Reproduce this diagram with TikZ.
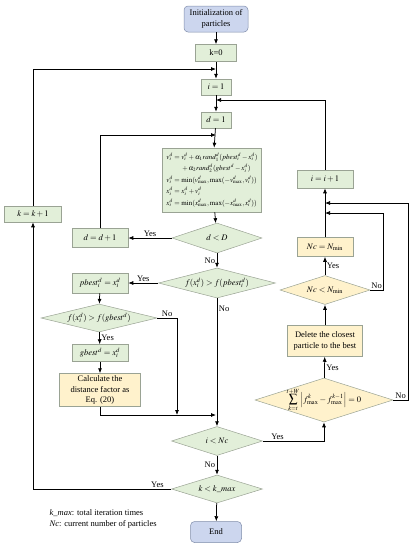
\documentclass[tikz,border=0pt]{standalone}
\usepackage{mathptmx}
\usepackage{fontspec}
\setmainfont{Liberation Serif}
\usetikzlibrary{shapes.geometric,arrows.meta}

\definecolor{fillgreen}{HTML}{E2EFD9}
\definecolor{fillyellow}{HTML}{FFF2CC}
\definecolor{fillblue}{HTML}{CCD6EE}
\definecolor{edgegray}{HTML}{9AA394}
\definecolor{edgeblue}{HTML}{7F8CAA}

\begin{document}
\begin{tikzpicture}[x=1pt, y=-1pt, line width=0.75pt, >={Latex[length=5pt,width=4pt]},
	font=\rmfamily\fontsize{8.5}{10.5}\selectfont,
	greenbox/.style={draw=edgegray, fill=fillgreen, line width=0.5pt, inner sep=1pt},
	yellowbox/.style={greenbox, fill=fillyellow},
	bluebox/.style={draw=edgeblue, fill=fillblue, line width=0.5pt, rounded corners=4pt, inner sep=1pt},
	greendia/.style={greenbox, shape=diamond, aspect=3.5, inner sep=0pt},
	yellowdia/.style={greendia, fill=fillyellow},
	lbl/.style={font=\rmfamily\fontsize{8.5}{10}\selectfont, inner sep=1.5pt}]
	\useasboundingbox (0,0) rectangle (415,550);

	% main column
	\node[bluebox, minimum width=64pt, minimum height=26pt, align=center] (init) at (216,19) {Initialization of\\particles};
	\node[greenbox, minimum width=41pt, minimum height=17pt] (k0) at (216,53) {k=0};
	\node[greenbox, minimum width=30pt, minimum height=16pt] (i1) at (216,87) {$i=1$};
	\node[greenbox, minimum width=30pt, minimum height=16pt] (d1) at (216,120) {$d=1$};
	\node[greenbox, minimum width=99pt, minimum height=64pt, align=left,
		font=\rmfamily\fontsize{7}{11.5}\selectfont] (upd) at (212,180)
		{$v_i^d=v_i^d+\alpha_1 rand_1^d(pbest_i^d-x_i^d)$\\
		\hspace*{16pt}$+\,\alpha_2 rand_2^d(gbest^d-x_i^d)$\\
		$v_i^d=\min(v_{\max}^d,\max(-v_{\max}^d,v_i^d))$\\
		$x_i^d=x_i^d+v_i^d$\\
		$x_i^d=\min(x_{\max}^d,\max(-x_{\max}^d,x_i^d))$};
	\node[greendia, minimum width=90pt, minimum height=30pt] (dD) at (217,238) {$d<D$};
	\node[greendia, minimum width=117pt, minimum height=30pt] (fp) at (217,283) {$f(x_i^d)>f(pbest_i^d)$};
	\node[greendia, minimum width=91pt, minimum height=29pt] (iN) at (217,441) {$i<Nc$};
	\node[greendia, minimum width=91pt, minimum height=28pt] (kk) at (217,489) {$k<k\_max$};
	\node[bluebox, minimum width=51pt, minimum height=21pt] (end) at (216,532) {End};

	% left column
	\node[greenbox, minimum width=57pt, minimum height=16pt] (kk1) at (33,214) {$k=k+1$};
	\node[greenbox, minimum width=56pt, minimum height=19pt] (dd) at (100,238) {$d=d+1$};
	\node[greenbox, minimum width=56pt, minimum height=20pt] (pb) at (100,283) {$pbest_i^d=x_i^d$};
	\node[greendia, minimum width=116pt, minimum height=26pt] (fg) at (99,318) {$f(x_i^d)>f(gbest^d)$};
	\node[greenbox, minimum width=56pt, minimum height=17pt] (gb) at (100,353) {$gbest^d=x_i^d$};
	\node[yellowbox, minimum width=81pt, minimum height=33pt, align=center] (calc) at (100,390) {Calculate the\\distance factor as\\Eq. (20)};

	% right column
	\node[greenbox, minimum width=56pt, minimum height=18pt] (ii) at (325,179) {$i=i+1$};
	\node[yellowbox, minimum width=56pt, minimum height=19pt] (ncs) at (325,247) {$Nc=N_{\min}$};
	\node[yellowdia, minimum width=90pt, minimum height=29pt] (nc) at (325,290) {$Nc<N_{\min}$};
	\node[yellowbox, minimum width=75pt, minimum height=31pt, align=center] (del) at (325,341) {Delete the closest\\particle to the best};
	\node[yellowdia, inner xsep=-8pt, inner ysep=-9pt, minimum width=138pt, minimum height=44pt] (sig) at (324,400)
		{$\displaystyle\sum_{k=t}^{t+W}\left|f_{\max}^k-f_{\max}^{k-1}\right|=0$};

	\node[align=left, anchor=west, font=\rmfamily\fontsize{8.5}{11}\selectfont] (note) at (46,519)
		{\textit{k\_max}: total iteration times\\\textit{Nc}: current number of particles};

	% joints
	\coordinate (j0) at (216,69);
	\coordinate (j2) at (216,100);
	\coordinate (j1) at (216,135);
	\coordinate (j3) at (216,415);
	\coordinate (j4) at (177,415);
	\coordinate (c5) at (383,213);
	\coordinate (j5) at (325,213);
	\coordinate (c6) at (408,203);
	\coordinate (j6) at (325,203);

	\draw[->] (init) -- (k0);
	\draw[->] (k0) -- (i1);
	\draw[->] (i1) -- (d1);
	\draw[->] (d1) -- (upd);
	\draw[->] (upd) -- (dD);
	\draw[->] (dD) -- node[lbl, above]{Yes} (dd);
	\draw[->] (dd.north) |- (j1);
	\draw[->] (dD) -- node[lbl, left]{No} (fp);
	\draw[->] (fp) -- node[lbl, above]{Yes} (pb);
	\draw[->] (pb) -- (fg);
	\draw[->] (fg) -- node[lbl, right]{Yes} (gb);
	\draw[->] (gb) -- (calc);
	\draw[->] (calc.south) |- (j3);
	\draw[->] (fg.east) -| node[lbl, above, pos=0.25]{No} (j4);
	\draw[->] (fp.south) -- node[lbl, right, pos=0.08]{No} (iN.north);
	\draw[->] (iN.east) -| node[lbl, above, pos=0.12]{Yes} (sig.south);
	\draw[->] (iN) -- node[lbl, left]{No} (kk);
	\draw[->] (kk.west) -| node[lbl, above, pos=0.05]{Yes} (kk1.south);
	\draw[->] (kk1.north) |- (j0);
	\draw[->] (kk) -- (end);
	\draw[->] (sig) -- node[lbl, right]{Yes} (del);
	\draw[->] (del) -- (nc);
	\draw[->] (nc) -- node[lbl, right]{Yes} (ncs);
	\draw[->] (nc.east) -| node[lbl, above, pos=0.25]{No} (c5) -- (j5);
	\draw[->] (sig.east) -| node[lbl, above, pos=0.25]{No} (c6) -- (j6);
	\draw[->] (ncs) -- (ii);
	\draw[->] (ii.north) |- (j2);
\end{tikzpicture}
\end{document}
